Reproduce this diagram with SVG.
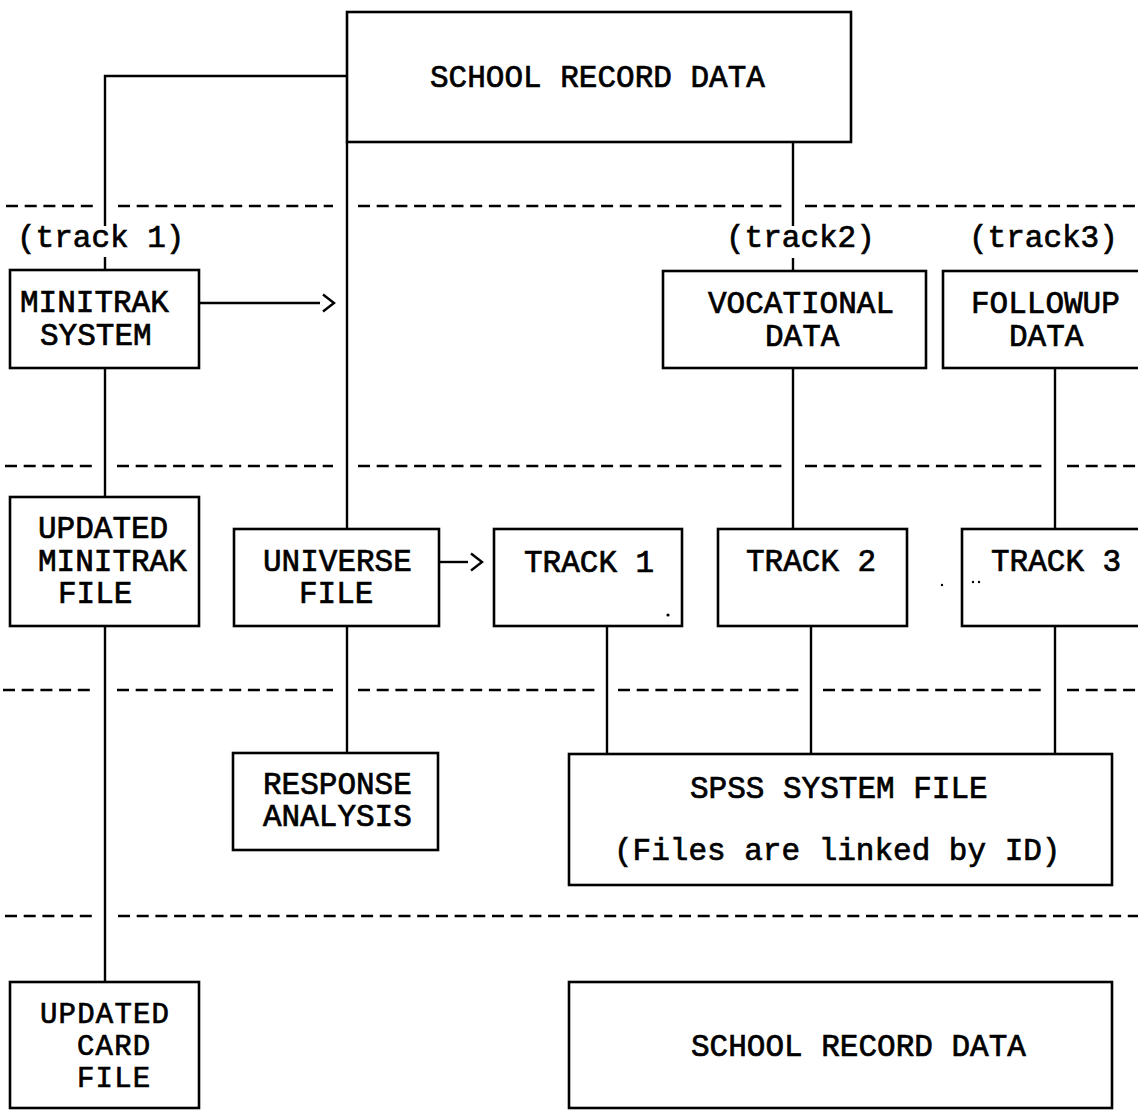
<svg xmlns="http://www.w3.org/2000/svg" width="1138" height="1110" viewBox="0 0 1138 1110">
<style>
.box{fill:none;stroke:#000;stroke-width:2.6}
.ln{fill:none;stroke:#000;stroke-width:2.4}
.dash{fill:none;stroke:#000;stroke-width:2.6;stroke-dasharray:12 6.7}
text{font-family:"Liberation Mono","Courier New",monospace;font-size:31px;font-weight:normal;fill:#000;stroke:#000;stroke-width:0.7}
.sm{font-size:29px;letter-spacing:1.2px}
</style>
<defs>
<marker id="chev" markerUnits="userSpaceOnUse" markerWidth="16" markerHeight="22" viewBox="0 0 16 22" refX="-2" refY="11" orient="auto">
<path d="M1,2.5 L12,11 L1,19.5" fill="none" stroke="#000" stroke-width="2.4"/>
</marker>
</defs>
<rect width="1138" height="1110" fill="#fff"/>

<g id="separators">
<path class="dash" d="M6,206H93 M118,206H333 M358,206H782 M805,206H1138"/>
<path class="dash" d="M5,466H93 M117,466H333 M358,466H782 M805,466H1043 M1067,466H1138"/>
<path class="dash" d="M3,690H92 M117,690H333 M358,690H595 M618,690H800 M823,690H1043 M1067,690H1138"/>
<path class="dash" d="M5,916H93 M118,916H1138"/>
</g>

<g id="connectors">
<path class="ln" d="M347,76H105V226 M105,257V270"/>
<path class="ln" d="M105,368V497"/>
<path class="ln" d="M105,626V982"/>
<path class="ln" d="M347,142V529"/>
<path class="ln" d="M347,626V753"/>
<path class="ln" d="M793,142V226 M793,258V271"/>
<path class="ln" d="M793,368V529"/>
<path class="ln" d="M1055,368V529"/>
<path class="ln" d="M607,626V754"/>
<path class="ln" d="M811,626V754"/>
<path class="ln" d="M1055,626V754"/>
<path class="ln" d="M199,303H320" marker-end="url(#chev)"/>
<path class="ln" d="M439,562H468" marker-end="url(#chev)"/>
</g>

<g id="labels">
<text x="17" y="247">(track 1)</text>
<text x="726" y="247">(track2)</text>
<text x="969" y="247">(track3)</text>
</g>

<g id="school-record-top">
<rect class="box" x="347" y="12" width="504" height="130"/>
<text x="430" y="87">SCHOOL RECORD DATA</text>
</g>
<g id="minitrak-system">
<rect class="box" x="10" y="270" width="189" height="98"/>
<text x="20" y="312">MINITRAK</text>
<text x="40" y="345">SYSTEM</text>
</g>
<g id="vocational-data">
<rect class="box" x="663" y="271" width="263" height="97"/>
<text x="708" y="313">VOCATIONAL</text>
<text x="765" y="346">DATA</text>
</g>
<g id="followup-data">
<rect class="box" x="943" y="271" width="210" height="97"/>
<text x="971" y="313">FOLLOWUP</text>
<text x="1009" y="346">DATA</text>
</g>
<g id="updated-minitrak-file">
<rect class="box" x="10" y="497" width="189" height="129"/>
<text x="38" y="538">UPDATED</text>
<text x="38" y="571">MINITRAK</text>
<text x="58" y="603">FILE</text>
</g>
<g id="universe-file">
<rect class="box" x="234" y="529" width="205" height="97"/>
<text x="263" y="571">UNIVERSE</text>
<text x="299" y="603">FILE</text>
</g>
<g id="track1">
<rect class="box" x="494" y="529" width="188" height="97"/>
<text x="524" y="572">TRACK 1</text>
</g>
<g id="track2">
<rect class="box" x="718" y="529" width="189" height="97"/>
<text x="746" y="571">TRACK 2</text>
</g>
<g id="track3">
<rect class="box" x="962" y="529" width="190" height="97"/>
<text x="991" y="571">TRACK 3</text>
</g>
<g id="response-analysis">
<rect class="box" x="233" y="753" width="205" height="97"/>
<text x="263" y="794">RESPONSE</text>
<text x="263" y="826">ANALYSIS</text>
</g>
<g id="spss-system-file">
<rect class="box" x="569" y="754" width="543" height="131"/>
<text x="690" y="798">SPSS SYSTEM FILE</text>
<text x="614" y="860">(Files are linked by ID)</text>
</g>
<g id="updated-card-file">
<rect class="box" x="10" y="982" width="189" height="126"/>
<text class="sm" x="40" y="1023">UPDATED</text>
<text class="sm" x="77" y="1055">CARD</text>
<text class="sm" x="77" y="1087">FILE</text>
</g>
<g id="school-record-bottom">
<rect class="box" x="569" y="982" width="543" height="126"/>
<text x="691" y="1056">SCHOOL RECORD DATA</text>
</g>
<g id="specks" fill="#000">
<circle cx="668" cy="615" r="1.6"/>
<circle cx="942" cy="585" r="1.2"/>
<circle cx="973" cy="582" r="1.2"/>
<circle cx="979" cy="582" r="1.2"/>
</g>
</svg>
